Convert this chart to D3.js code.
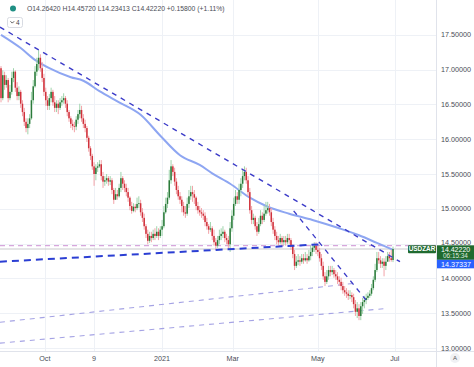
<!DOCTYPE html>
<html>
<head>
<meta charset="utf-8">
<script src="https://cdn.jsdelivr.net/npm/d3@7"></script>
<style>
  body { margin: 0; background: #fff; }
  svg { display: block; font-family: "Liberation Sans", Arial, sans-serif; }
</style>
</head>
<body>
<script>
'use strict';
// USDZAR daily candles, late Aug 2020 -> 1 Jul 2021
const firstOpen = 17.02;
const closes = [
  16.59, 16.92, 16.78, 16.85, 16.59, 16.68, 16.88, 16.97, 16.74, 16.62,
  16.68, 16.51, 16.39, 16.25, 16.16, 16.22, 16.30, 16.56, 16.76, 16.97,
  17.08, 17.17, 17.02, 16.88, 16.68, 16.56, 16.48, 16.59, 16.68, 16.53,
  16.45, 16.51, 16.45, 16.53, 16.56, 16.59, 16.51, 16.39, 16.30, 16.22,
  16.19, 16.18, 16.28, 16.36, 16.42, 16.30, 16.22, 16.16, 16.02, 15.87,
  15.76, 15.61, 15.50, 15.59, 15.61, 15.64, 15.47, 15.39, 15.41, 15.44,
  15.39, 15.41, 15.27, 15.13, 15.21, 15.18, 15.30, 15.44, 15.36, 15.30,
  15.24, 15.16, 15.04, 14.97, 15.03, 15.01, 15.07, 15.08, 14.95, 14.87,
  14.75, 14.64, 14.54, 14.61, 14.58, 14.64, 14.61, 14.67, 14.61, 14.70,
  14.75, 14.95, 15.07, 15.16, 15.41, 15.61, 15.53, 15.39, 15.27, 15.18,
  15.13, 15.04, 14.95, 14.93, 15.07, 15.18, 15.24, 15.21, 15.16, 15.04,
  14.98, 14.95, 14.93, 14.90, 14.81, 14.75, 14.70, 14.72, 14.61, 14.52,
  14.47, 14.55, 14.61, 14.64, 14.67, 14.58, 14.55, 14.49, 14.72, 14.90,
  15.07, 15.18, 15.13, 15.27, 15.36, 15.47, 15.53, 15.41, 15.24, 14.98,
  14.84, 14.87, 14.75, 14.67, 14.78, 14.90, 14.84, 14.93, 14.98, 15.01,
  14.95, 14.81, 14.70, 14.61, 14.55, 14.52, 14.58, 14.52, 14.55, 14.52,
  14.58, 14.55, 14.47, 14.35, 14.18, 14.24, 14.26, 14.24, 14.29, 14.26,
  14.29, 14.26, 14.32, 14.38, 14.44, 14.47, 14.41, 14.38, 14.29, 14.18,
  14.03, 13.95, 14.03, 14.12, 14.09, 14.12, 14.06, 14.03, 13.98, 13.95,
  13.89, 13.83, 13.80, 13.78, 13.75, 13.76, 13.73, 13.63, 13.52, 13.57,
  13.46, 13.60, 13.66, 13.69, 13.72, 13.75, 13.78, 13.86, 13.98, 14.12,
  14.29, 14.26, 14.21, 14.24, 14.18, 14.24, 14.32, 14.29, 14.2642, 14.4222
];
const highs = [
  17.05, 16.99, 16.97, 16.92, 16.88, 16.78, 16.97, 17.02, 16.99, 16.82,
  16.76, 16.71, 16.56, 16.45, 16.30, 16.30, 16.36, 16.68, 16.85, 17.05,
  17.17, 17.28, 17.22, 17.11, 16.94, 16.74, 16.62, 16.65, 16.74, 16.71,
  16.62, 16.56, 16.56, 16.59, 16.62, 16.66, 16.62, 16.56, 16.42, 16.33,
  16.28, 16.25, 16.33, 16.42, 16.51, 16.48, 16.36, 16.28, 16.19, 16.05,
  15.90, 15.79, 15.67, 15.64, 15.67, 15.70, 15.70, 15.53, 15.47, 15.50,
  15.47, 15.47, 15.44, 15.30, 15.30, 15.27, 15.36, 15.53, 15.47, 15.41,
  15.36, 15.30, 15.18, 15.10, 15.08, 15.07, 15.16, 15.18, 15.13, 15.01,
  14.93, 14.78, 14.70, 14.67, 14.67, 14.70, 14.72, 14.75, 14.72, 14.75,
  14.84, 15.04, 15.16, 15.24, 15.56, 15.70, 15.64, 15.59, 15.44, 15.33,
  15.24, 15.18, 15.10, 15.04, 15.16, 15.27, 15.33, 15.33, 15.27, 15.18,
  15.10, 15.04, 15.01, 14.98, 14.95, 14.87, 14.78, 14.81, 14.75, 14.70,
  14.58, 14.61, 14.70, 14.72, 14.75, 14.70, 14.64, 14.61, 14.81, 14.98,
  15.16, 15.27, 15.24, 15.36, 15.44, 15.56, 15.61, 15.59, 15.47, 15.30,
  15.04, 14.93, 14.90, 14.81, 14.87, 14.98, 14.95, 15.04, 15.10, 15.10,
  15.07, 15.01, 14.87, 14.75, 14.67, 14.61, 14.64, 14.61, 14.61, 14.61,
  14.64, 14.64, 14.58, 14.49, 14.41, 14.32, 14.35, 14.32, 14.35, 14.35,
  14.38, 14.35, 14.41, 14.47, 14.49, 14.52, 14.52, 14.47, 14.44, 14.35,
  14.24, 14.09, 14.12, 14.18, 14.18, 14.18, 14.15, 14.12, 14.09, 14.03,
  14.01, 13.95, 13.89, 13.86, 13.83, 13.83, 13.80, 13.78, 13.69, 13.66,
  13.63, 13.66, 13.72, 13.75, 13.78, 13.80, 13.83, 13.92, 14.03, 14.21,
  14.38, 14.38, 14.32, 14.29, 14.29, 14.32, 14.38, 14.38, 14.41, 14.4572
];
const lows = [
  16.53, 16.56, 16.71, 16.74, 16.53, 16.56, 16.64, 16.82, 16.68, 16.56,
  16.56, 16.45, 16.33, 16.19, 16.10, 16.07, 16.16, 16.28, 16.51, 16.74,
  16.91, 16.99, 16.97, 16.82, 16.62, 16.48, 16.42, 16.42, 16.53, 16.48,
  16.39, 16.39, 16.36, 16.42, 16.48, 16.51, 16.45, 16.33, 16.25, 16.16,
  16.13, 16.10, 16.13, 16.22, 16.30, 16.25, 16.16, 16.10, 15.96, 15.82,
  15.70, 15.56, 15.33, 15.41, 15.53, 15.59, 15.41, 15.30, 15.33, 15.36,
  15.33, 15.34, 15.21, 15.07, 15.13, 15.13, 15.16, 15.24, 15.27, 15.24,
  15.18, 15.10, 14.98, 14.93, 14.95, 14.95, 14.98, 15.01, 14.90, 14.81,
  14.70, 14.58, 14.49, 14.51, 14.52, 14.55, 14.55, 14.58, 14.55, 14.58,
  14.61, 14.72, 14.93, 15.01, 15.13, 15.36, 15.47, 15.33, 15.21, 15.13,
  15.07, 14.95, 14.90, 14.87, 14.90, 15.01, 15.13, 15.10, 15.07, 14.98,
  14.93, 14.90, 14.87, 14.84, 14.75, 14.70, 14.64, 14.67, 14.55, 14.47,
  14.41, 14.44, 14.49, 14.55, 14.58, 14.52, 14.49, 14.41, 14.38, 14.67,
  14.84, 15.04, 15.07, 15.07, 15.18, 15.30, 15.41, 15.36, 15.18, 14.93,
  14.78, 14.78, 14.70, 14.61, 14.64, 14.75, 14.78, 14.81, 14.90, 14.93,
  14.90, 14.75, 14.64, 14.55, 14.49, 14.47, 14.49, 14.47, 14.48, 14.47,
  14.49, 14.49, 14.41, 14.29, 14.12, 14.15, 14.19, 14.18, 14.21, 14.21,
  14.24, 14.21, 14.24, 14.26, 14.32, 14.38, 14.35, 14.32, 14.24, 14.12,
  13.98, 13.89, 13.92, 13.98, 14.03, 14.05, 14.01, 13.98, 13.92, 13.89,
  13.83, 13.78, 13.75, 13.72, 13.69, 13.70, 13.66, 13.57, 13.46, 13.43,
  13.40, 13.40, 13.49, 13.57, 13.63, 13.69, 13.72, 13.75, 13.83, 13.95,
  14.09, 14.21, 14.15, 14.15, 14.03, 14.12, 14.24, 14.24, 14.24, 14.23413
];
// 100-day moving average, read at a few bars
const maBars = [0, 11, 19, 27, 39, 46, 55, 66, 78, 89, 100, 111, 118, 128, 139, 149, 161, 174, 189, 200, 210, 219];
const maValues = [17.50, 17.31, 17.14, 17.02, 16.89, 16.84, 16.69, 16.53, 16.35, 16.05, 15.77, 15.63,
                  15.51, 15.36, 15.16, 15.03, 14.93, 14.84, 14.72, 14.62, 14.51, 14.41];
// drawn trend lines: [bar0, price0, bar1, price1]
const resistanceLine = [-0.6, 17.61, 222.9, 14.24];
const supportLine = [-0.6, 14.24, 178.2, 14.49];
const steepLine = [163.5, 14.97, 203.9, 13.69];
const channelUpper = [-0.6, 13.37, 197.8, 13.93];
const channelLower = [-0.6, 13.07, 216.2, 13.57];
const pinkLevel = 14.47;
const lastPrice = 14.4222;
const priceTicks = [13.0, 13.5, 14.0, 14.5, 15.0, 15.5, 16.0, 16.5, 17.0, 17.5];
const timeTickBars = [24.5, 52, 90, 129.5, 177, 220];
const timeTickLabels = ['Oct', '9', '2021', 'Mar', 'May', 'Jul'];
const legendText = 'O14.26420 H14.45720 L14.23413 C14.42220 +0.15800 (+1.11%)';

(function() {
    let dims = { width: 474, height: 367, plotRight: 436, plotBottom: 351 };
    let svg = d3.select('body')
                .append('svg')
                .attr('width', dims.width)
                .attr('height', dims.height);

    let x = d3.scaleLinear().domain([0, 243]).range([1, 1 + 243 * 1.79]);
    let y = d3.scaleLinear().domain([13, 18]).range([348, 0]);

    let plot = svg.append('g');
    plot.append('clipPath').attr('id', 'clip')
        .append('rect').attr('x', 0).attr('y', 0)
        .attr('width', dims.plotRight).attr('height', dims.plotBottom);

    // grid
    plot.selectAll('.hgrid')
        .data(priceTicks)
        .enter()
        .append('line')
        .attr('x1', 0).attr('x2', dims.plotRight)
        .attr('y1', (d) => Math.round(y(d)) + 0.5)
        .attr('y2', (d) => Math.round(y(d)) + 0.5)
        .attr('stroke', '#eef1f6');
    plot.selectAll('.vgrid')
        .data(timeTickBars)
        .enter()
        .append('line')
        .attr('x1', (d) => Math.round(x(d)) + 0.5)
        .attr('x2', (d) => Math.round(x(d)) + 0.5)
        .attr('y1', 0).attr('y2', dims.plotBottom)
        .attr('stroke', '#eef1f6');

    let lines = plot.append('g').attr('clip-path', 'url(#clip)');

    // channel lines (lavender)
    [channelUpper, channelLower].forEach((l) => {
        lines.append('line')
            .attr('x1', x(l[0])).attr('y1', y(l[1]))
            .attr('x2', x(l[2])).attr('y2', y(l[3]))
            .attr('stroke', '#a5a3e4')
            .attr('stroke-width', 1.1)
            .attr('stroke-dasharray', '5,5');
    });

    // horizontal levels
    lines.append('line')
        .attr('x1', 0).attr('x2', dims.plotRight)
        .attr('y1', y(lastPrice)).attr('y2', y(lastPrice))
        .attr('stroke', '#c9c9cc').attr('stroke-width', 1);
    lines.append('line')
        .attr('x1', 0).attr('x2', dims.plotRight)
        .attr('y1', y(pinkLevel)).attr('y2', y(pinkLevel))
        .attr('stroke', '#d7a6dc').attr('stroke-width', 1.3)
        .attr('stroke-dasharray', '5,4');

    // moving average
    lines.append('path')
        .datum(maBars.map((b, i) => [b, maValues[i]]))
        .attr('fill', 'none')
        .attr('stroke', '#8ea6f2')
        .attr('stroke-width', 2)
        .attr('d', d3.line()
            .x((d) => x(d[0]))
            .y((d) => y(d[1]))
            .curve(d3.curveMonotoneX));

    // candles
    let bars = closes.map((c, i) => ({
        i: i,
        o: i === 0 ? firstOpen : closes[i - 1],
        h: highs[i],
        l: lows[i],
        c: c
    }));
    let candles = lines.append('g');
    candles.selectAll('.wick')
        .data(bars)
        .enter()
        .append('line')
        .attr('x1', (d) => x(d.i)).attr('x2', (d) => x(d.i))
        .attr('y1', (d) => y(Math.max(d.h, d.o, d.c)))
        .attr('y2', (d) => y(Math.min(d.l, d.o, d.c)))
        .attr('stroke', (d) => d.c >= d.o ? '#9fd4ac' : '#f2a3a8')
        .attr('stroke-width', 1);
    candles.selectAll('.body')
        .data(bars)
        .enter()
        .append('rect')
        .attr('x', (d) => x(d.i) - 0.75)
        .attr('width', 1.5)
        .attr('y', (d) => y(Math.max(d.o, d.c)))
        .attr('height', (d) => Math.max(0.8, Math.abs(y(d.o) - y(d.c))))
        .attr('fill', (d) => d.c >= d.o ? '#2b7a3a' : '#d0313b');

    // trend lines (dark blue)
    lines.append('line')
        .attr('x1', x(resistanceLine[0])).attr('y1', y(resistanceLine[1]))
        .attr('x2', x(resistanceLine[2])).attr('y2', y(resistanceLine[3]))
        .attr('stroke', '#3b3bc8').attr('stroke-width', 1.4)
        .attr('stroke-dasharray', '5,5');
    lines.append('line')
        .attr('x1', x(steepLine[0])).attr('y1', y(steepLine[1]))
        .attr('x2', x(steepLine[2])).attr('y2', y(steepLine[3]))
        .attr('stroke', '#3b3bc8').attr('stroke-width', 1.3)
        .attr('stroke-dasharray', '5,5');
    lines.append('line')
        .attr('x1', x(supportLine[0])).attr('y1', y(supportLine[1]))
        .attr('x2', x(supportLine[2])).attr('y2', y(supportLine[3]))
        .attr('stroke', '#2b3ed3').attr('stroke-width', 2)
        .attr('stroke-dasharray', '7,5');

    // axes frame
    svg.append('line')
        .attr('x1', dims.plotRight + 0.5).attr('x2', dims.plotRight + 0.5)
        .attr('y1', 0).attr('y2', dims.height)
        .attr('stroke', '#e0e3eb');
    svg.append('line')
        .attr('x1', 0).attr('x2', dims.width)
        .attr('y1', dims.plotBottom + 0.5).attr('y2', dims.plotBottom + 0.5)
        .attr('stroke', '#e0e3eb');

    // price axis labels (14.5 sits partly under the last-price box)
    svg.selectAll('.ptick')
        .data(priceTicks)
        .enter()
        .append('text')
        .attr('x', 441)
        .attr('y', (d) => d === 14.5 ? y(d) + 1.2 : y(d) + 2.5)
        .style('font-size', '7.2px')
        .attr('fill', '#4a4c55')
        .text((d) => d.toFixed(5));

    // time axis labels
    svg.selectAll('.ttick')
        .data(timeTickBars)
        .enter()
        .append('text')
        .attr('x', (d) => x(d))
        .attr('y', 361)
        .attr('text-anchor', 'middle')
        .style('font-size', '7.2px')
        .attr('fill', '#4a4c55')
        .text((d, i) => timeTickLabels[i]);

    // last price labels
    let green = '#1f6a2f';
    svg.append('rect')
        .attr('x', 408).attr('y', y(lastPrice) - 3.7)
        .attr('width', 28).attr('height', 8)
        .attr('rx', 1)
        .attr('fill', green);
    svg.append('text')
        .attr('x', 422).attr('y', y(lastPrice) + 2.4)
        .attr('text-anchor', 'middle')
        .style('font-size', '6.4px')
        .style('font-weight', 'bold')
        .attr('fill', '#fff')
        .text('USDZAR');
    svg.append('rect')
        .attr('x', 437).attr('y', y(lastPrice) - 3.7)
        .attr('width', 37).attr('height', 14.5)
        .attr('fill', green);
    svg.append('text')
        .attr('x', 441).attr('y', y(lastPrice) + 3)
        .style('font-size', '7px')
        .attr('fill', '#fff')
        .text(lastPrice.toFixed(5));
    svg.append('text')
        .attr('x', 443).attr('y', y(lastPrice) + 9.4)
        .style('font-size', '6.4px')
        .attr('fill', '#dfe9df')
        .text('06:15:34');
    svg.append('rect')
        .attr('x', 437).attr('y', y(lastPrice) + 10.8)
        .attr('width', 37).attr('height', 8.5)
        .attr('fill', '#2962ff');
    svg.append('text')
        .attr('x', 441).attr('y', y(lastPrice) + 17.5)
        .style('font-size', '7.2px')
        .attr('fill', '#fff')
        .text('14.37337');

    // auto-scale button
    svg.append('circle')
        .attr('cx', 455).attr('cy', 358).attr('r', 5)
        .attr('fill', '#f0f1f4');
    svg.append('text')
        .attr('x', 455).attr('y', 360.3)
        .attr('text-anchor', 'middle')
        .style('font-size', '6px')
        .attr('fill', '#555')
        .text('A');

    // legend
    svg.append('circle')
        .attr('cx', 13).attr('cy', 8.5).attr('r', 3)
        .attr('fill', '#1f8f84');
    svg.append('text')
        .attr('x', 27).attr('y', 11)
        .style('font-size', '6.8px')
        .attr('fill', '#4a4c55')
        .text(legendText);
    svg.append('rect')
        .attr('x', 7.5).attr('y', 17.5)
        .attr('width', 15).attr('height', 10)
        .attr('rx', 2)
        .attr('fill', '#fff')
        .attr('stroke', '#d8dbe2');
    svg.append('path')
        .attr('d', 'M10.5,21.3 L12.3,23.1 L14.1,21.3')
        .attr('fill', 'none')
        .attr('stroke', '#444')
        .attr('stroke-width', 0.9);
    svg.append('text')
        .attr('x', 16).attr('y', 24.8)
        .style('font-size', '6.5px')
        .attr('fill', '#444')
        .text('4');
})();
</script>
</body>
</html>
